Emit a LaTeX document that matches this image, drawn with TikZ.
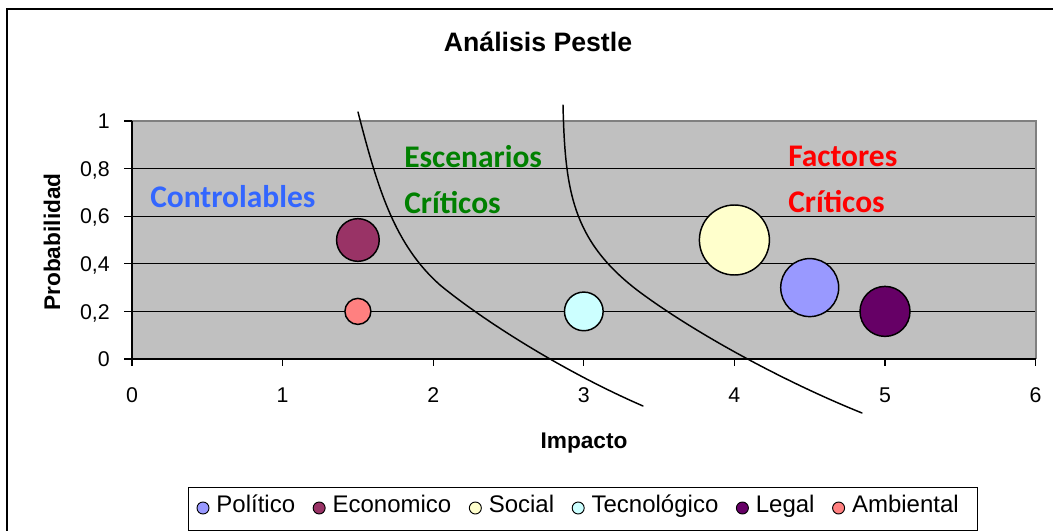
\documentclass[tikz,border=0pt]{standalone}
\usepackage{fontspec}
\setmainfont{Liberation Sans}
\newfontfamily\calibri{Carlito}
\usetikzlibrary{positioning}
\usepackage{xcolor}

\definecolor{plotgray}{RGB}{192,192,192}
\definecolor{framegray}{RGB}{128,128,128}
\definecolor{politico}{RGB}{153,153,255}
\definecolor{economico}{RGB}{153,51,102}
\definecolor{social}{RGB}{255,255,204}
\definecolor{tecnologico}{RGB}{204,255,255}
\definecolor{legal}{RGB}{102,0,102}
\definecolor{ambiental}{RGB}{255,128,128}
\definecolor{ctrlblue}{RGB}{51,102,255}
\definecolor{escgreen}{RGB}{0,128,0}
\definecolor{factred}{RGB}{255,0,0}

\tikzset{
  bubble/.style={circle, draw=black, line width=1.1pt, inner sep=0pt},
  legdot/.style={circle, draw=black, line width=0.7pt, inner sep=0pt, minimum size=9pt},
  legtext/.style={font=\fontsize{18}{21}\selectfont, inner sep=0pt, text height=0.716em, text depth=0pt},
  ticklab/.style={font=\fontsize{16}{19}\selectfont, inner sep=0pt},
  zonetext/.style={font=\calibri\bfseries\fontsize{23.6}{28}\selectfont, inner sep=0pt, anchor=base west},
  axlabel/.style={font=\bfseries\fontsize{17}{20}\selectfont, inner sep=0pt, anchor=base},
  zoneline/.style={line width=1.1pt, line cap=round}
}

\begin{document}
\begin{tikzpicture}[x=0.75pt, y=-0.75pt]
    \useasboundingbox (0,0) rectangle (1053,531);
    \draw[line width=1pt] (7,531) -- (7,9) -- (1053,9);
    \node[font=\bfseries\fontsize{20}{24}\selectfont, anchor=base, inner sep=0pt] (title) at (538,52) {Análisis Pestle};

    % plot area in data units
    \begin{scope}[shift={(132,359)}, x=112.95pt, y=178.5pt]
        \fill[plotgray] (0,0) rectangle (6,1);
        \foreach \p in {0.2,0.4,0.6,0.8}
            \draw[line width=0.8pt] (0,\p) -- (6,\p);
        \draw[framegray, line width=1.5pt] (0,1) -- (6,1) -- (6,0);
        \draw[line width=0.9pt] (0,1) -- (0,0) -- (6,0);
        \foreach \p/\t [count=\i] in {0/0, 0.2/{0,2}, 0.4/{0,4}, 0.6/{0,6}, 0.8/{0,8}, 1/1} {
            \draw[line width=0.8pt] (-0.053,\p) -- (0,\p);
            \node[ticklab, anchor=base east, yshift=-5.7pt] (yl\i) at (-0.146,\p) {\t};
        }
        \foreach \v in {0,...,6} {
            \draw[line width=0.8pt] (\v,0) -- (\v,-0.03);
            \node[ticklab, anchor=base, yshift=-32.7pt] (xl\v) at (\v,0) {\v};
        }
        \node[bubble, fill=economico, minimum size=32pt] (eco) at (1.5,0.5) {};
        \node[bubble, fill=ambiental, minimum size=19.5pt] (amb) at (1.5,0.2) {};
        \node[bubble, fill=tecnologico, minimum size=29pt] (tec) at (3,0.2) {};
        \node[bubble, fill=social, minimum size=52.5pt] (soc) at (4,0.5) {};
        \node[bubble, fill=politico, minimum size=43.5pt] (pol) at (4.5,0.3) {};
        \node[bubble, fill=legal, minimum size=37.5pt] (leg) at (5,0.2) {};
    \end{scope}

    % zone borders
    \draw[zoneline] (358,112) .. controls (378,190) and (395,245) .. (440,285)
        .. controls (480,318) and (560,370) .. (643,406);
    \draw[zoneline] (563,105) .. controls (565,190) and (572,240) .. (637,290)
        .. controls (690,330) and (780,380) .. (862,413);

    \node[zonetext, text=ctrlblue] (ctrl) at (150,208) {Controlables};
    \node[zonetext, text=escgreen] (esc) at (404,168) {Escenarios};
    \node[zonetext, text=escgreen] (esccrit) at (404,214) {Críticos};
    \node[zonetext, text=factred] (fact) at (788,167) {Factores};
    \node[zonetext, text=factred] (factcrit) at (788,213) {Críticos};

    \node[axlabel] (impacto) at (584,448) {Impacto};
    \node[axlabel, rotate=90] (prob) at (60,242) {Probabilidad};

    % legend
    \draw[line width=0.75pt] (188,487) rectangle (977,530);
    \node[legdot, fill=politico] (dpol) at (203,508) {};
    \node[legtext, right=5pt of dpol] (tpol) {Político};
    \node[legdot, fill=economico, right=13pt of tpol] (deco) {};
    \node[legtext, right=5pt of deco] (teco) {Economico};
    \node[legdot, fill=social, right=13pt of teco] (dsoc) {};
    \node[legtext, right=5pt of dsoc] (tsoc) {Social};
    \node[legdot, fill=tecnologico, right=13pt of tsoc] (dtec) {};
    \node[legtext, right=5pt of dtec] (ttec) {Tecnológico};
    \node[legdot, fill=legal, right=13pt of ttec] (dleg) {};
    \node[legtext, right=5pt of dleg] (tleg) {Legal};
    \node[legdot, fill=ambiental, right=13pt of tleg] (damb) {};
    \node[legtext, right=5pt of damb] (tamb) {Ambiental};
\end{tikzpicture}
\end{document}
